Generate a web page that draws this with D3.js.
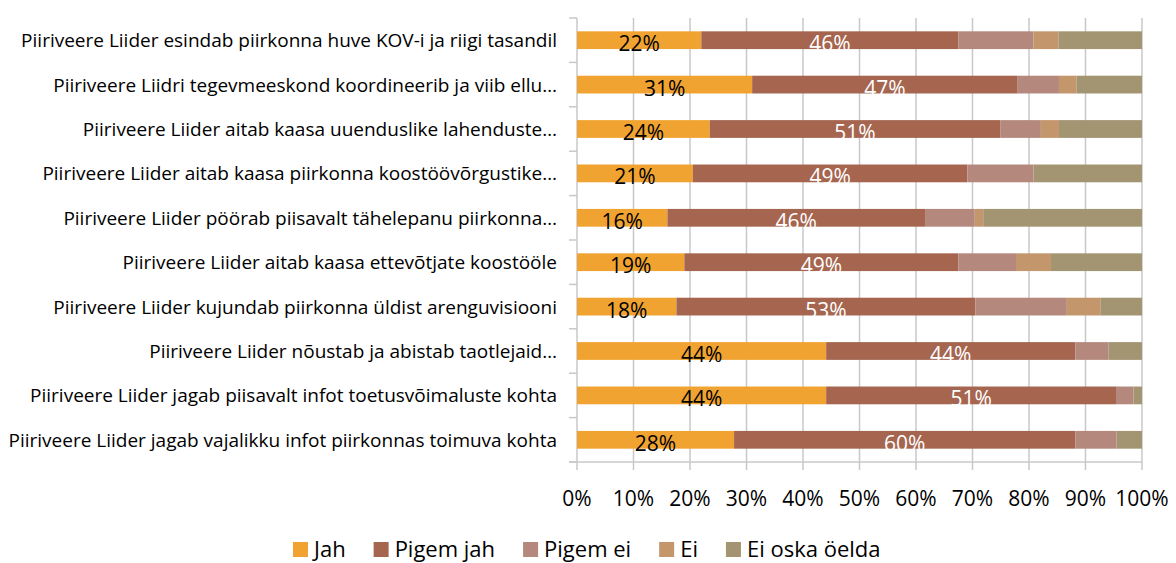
<!DOCTYPE html>
<html>
<head>
<meta charset="utf-8">
<script src="https://cdn.jsdelivr.net/npm/d3@7"></script>
<style>
  body { margin: 0; background: #fff; }
  text { font-family: "Open Sans", "Noto Sans", sans-serif; }
</style>
</head>
<body>
<div id="chart"></div>
<script>
const categories = [
  "Piiriveere Liider esindab piirkonna huve KOV-i ja riigi tasandil",
  "Piiriveere Liidri tegevmeeskond koordineerib ja viib ellu…",
  "Piiriveere Liider aitab kaasa uuenduslike lahenduste…",
  "Piiriveere Liider aitab kaasa piirkonna koostöövõrgustike…",
  "Piiriveere Liider pöörab piisavalt tähelepanu piirkonna…",
  "Piiriveere Liider aitab kaasa ettevõtjate koostööle",
  "Piiriveere Liider kujundab piirkonna üldist arenguvisiooni",
  "Piiriveere Liider nõustab ja abistab taotlejaid…",
  "Piiriveere Liider jagab piisavalt infot toetusvõimaluste kohta",
  "Piiriveere Liider jagab vajalikku infot piirkonnas toimuva kohta"
];
const seriesNames = ["Jah", "Pigem jah", "Pigem ei", "Ei", "Ei oska öelda"];
const jah      = [22, 31, 23.5, 20.5, 16, 19, 17.6, 44.1, 44.1, 27.8];
const pigemJah = [45.5, 47, 51.4, 48.6, 45.6, 48.5, 52.9, 44.1, 51.3, 60.4];
const pigemEi  = [13.3, 7.3, 7.2, 11.7, 8.8, 10.2, 16.2, 5.9, 3.1, 7.3];
const ei       = [4.4, 3.1, 3.2, 0, 1.5, 6.2, 6.0, 0, 0, 0];
const eiOska   = [14.8, 11.6, 14.7, 19.2, 28.1, 16.1, 7.3, 5.9, 1.5, 4.5];
const tickValues = [0, 10, 20, 30, 40, 50, 60, 70, 80, 90, 100];

const colors = ["#f0a330", "#a5654f", "#b5887d", "#c4966b", "#a39472"];
const labelColors = ["#000", "#fff"];

const width = 1176, height = 563;
const margin = {top: 18, right: 34, bottom: 101, left: 577};
const innerW = width - margin.left - margin.right;
const innerH = height - margin.top - margin.bottom;

const rows = categories.map((c, i) => ({
  cat: c, "Jah": jah[i], "Pigem jah": pigemJah[i], "Pigem ei": pigemEi[i], "Ei": ei[i], "Ei oska öelda": eiOska[i]
}));
const stacked = d3.stack().keys(seriesNames)(rows);

const svg = d3.select("#chart").append("svg")
  .attr("width", width).attr("height", height);
const g = svg.append("g").attr("transform", "translate(" + margin.left + "," + margin.top + ")");

const x = d3.scaleLinear().domain([0, 100]).range([0, innerW]);
const y = d3.scaleBand().domain(categories).range([0, innerH]).paddingInner(0.6).paddingOuter(0.3);
const band = d3.scaleBand().domain(categories).range([0, innerH]);

// gridlines
g.selectAll(".grid").data(tickValues.slice(1)).enter().append("line")
  .attr("x1", d => x(d)).attr("x2", d => x(d))
  .attr("y1", 0).attr("y2", innerH + 8)
  .attr("stroke", "#c8c8c8").attr("stroke-width", 1.5);

// y axis line + ticks at band boundaries
g.append("line").attr("x1", 0).attr("x2", 0).attr("y1", 0).attr("y2", innerH + 8)
  .attr("stroke", "#c8c8c8").attr("stroke-width", 1.5);
g.selectAll(".ytick").data(d3.range(categories.length + 1)).enter().append("line")
  .attr("x1", -8).attr("x2", 0)
  .attr("y1", i => i * band.step()).attr("y2", i => i * band.step())
  .attr("stroke", "#c8c8c8").attr("stroke-width", 1.5);
g.append("line").attr("x1", -8).attr("x2", innerW).attr("y1", innerH).attr("y2", innerH)
  .attr("stroke", "#c8c8c8").attr("stroke-width", 1.5);

// bars
const layers = g.selectAll(".layer").data(stacked).enter().append("g")
  .attr("fill", (d, i) => colors[i]);
layers.selectAll("rect").data(d => d).enter().append("rect")
  .attr("x", d => x(d[0]))
  .attr("y", d => y(d.data.cat))
  .attr("width", d => x(d[1]) - x(d[0]))
  .attr("height", y.bandwidth());

// data labels (only first two series)
stacked.slice(0, 2).forEach((layer, si) => {
  g.selectAll(".lbl" + si).data(layer).enter().append("text")
    .attr("x", d => x((d[0] + d[1]) / 2))
    .attr("y", d => y(d.data.cat) + y.bandwidth() / 2 + 3)
    .attr("text-anchor", "middle")
    .attr("dominant-baseline", "central")
    .attr("font-size", 21)
    .attr("fill", labelColors[si])
    .text(d => Math.round(d[1] - d[0]) + "%");
});

// category labels
g.selectAll(".cat").data(categories).enter().append("text")
  .attr("x", -20)
  .attr("y", d => band(d) + band.bandwidth() / 2)
  .attr("text-anchor", "end")
  .attr("dominant-baseline", "central")
  .attr("font-size", 19)
  .attr("fill", "#000")
  .text(d => d);

// x tick labels
g.selectAll(".xt").data(tickValues).enter().append("text")
  .attr("x", d => x(d))
  .attr("y", innerH + 36)
  .attr("text-anchor", "middle")
  .attr("dominant-baseline", "central")
  .attr("font-size", 21)
  .attr("fill", "#000")
  .text(d => d + "%");

// legend
const legend = svg.append("g").attr("transform", "translate(293," + 548 + ")");
let lx = 0;
seriesNames.forEach((name, i) => {
  const item = legend.append("g").attr("transform", "translate(" + lx + ",0)");
  item.append("rect").attr("x", 0).attr("y", -6).attr("width", 15).attr("height", 15).attr("fill", colors[i]);
  const t = item.append("text").attr("x", 21).attr("y", 0)
    .attr("dominant-baseline", "central").attr("font-size", 22).attr("fill", "#000").text(name);
  lx += 21 + t.node().getComputedTextLength() + 28;
});
</script>
</body>
</html>
